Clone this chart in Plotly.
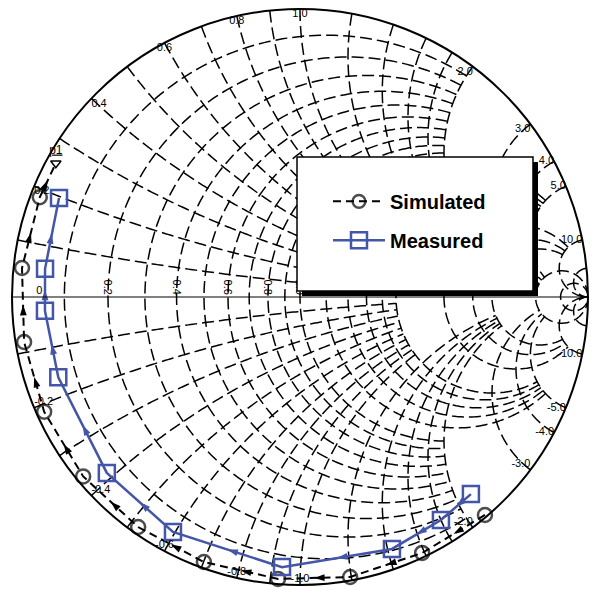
import math
import numpy as np
import plotly.graph_objects as go

# Normalized input impedance z = r + jx, ordered along the sweep direction;
# the last simulated point is the one tagged by marker p1
sim_r = [0.021, 0.027, 0.015, 0.017, 0.016, 0.015, 0.013, 0.014, 0.015, 0.015, 0.017, 0.018]
sim_x = [-2.16, -1.585, -1.195, -0.925, -0.701, -0.519, -0.360, -0.214, -0.081, 0.052, 0.185, 0.256]

meas_r = [0.283, 0.187, 0.108, 0.058, 0.051, 0.056, 0.063, 0.060, 0.058, 0.052]
meas_x = [-2.16, -1.80, -1.424, -0.934, -0.595, -0.386, -0.161, -0.027, 0.055, 0.197]

# chart grid values
grid_real = [0.1, 0.2, 0.3, 0.4, 0.5, 0.6, 0.7, 0.8, 0.9, 1.0,
             1.2, 1.4, 1.6, 1.8, 2.0, 3.0, 4.0, 5.0, 10.0, 20.0]
grid_imag = [0.1, 0.2, 0.3, 0.4, 0.5, 0.6, 0.7, 0.8, 0.9, 1.0,
             1.2, 1.4, 1.6, 1.8, 2.0, 3.0, 4.0, 5.0, 10.0, 20.0]

# labelled values
real_labels = [0.2, 0.4, 0.6, 0.8, 1.0]
imag_labels = [0.2, 0.4, 0.6, 0.8, 1.0, 2.0, 3.0, 4.0, 5.0, 10.0,
               -0.2, -0.4, -0.6, -0.8, -1.0, -2.0, -3.0, -4.0, -5.0, -10.0]

BLUE = "#4456A8"
FONT = "Liberation Sans, Arial, sans-serif"
GRID = dict(color="black", width=1.5, dash="12px,5px")


def gamma(r, x):
    z = complex(r, x)
    return (z - 1) / (z + 1)


def imped(g):
    return (1 + g) / (1 - g)


def reach(v):
    """How far a grid line of value v runs along the other family."""
    if v <= 1.0:
        return 2.0
    if v <= 2.0:
        return 5.0
    if v <= 5.0:
        return 10.0
    return 1e4


def resistance_circle(r, xmax, n=240):
    c, rho = r / (r + 1), 1 / (r + 1)
    t0 = np.angle(gamma(r, xmax) - c)
    t = np.linspace(t0, 2 * np.pi - t0, n)
    z = imped(c + rho * np.exp(1j * t))
    return z.real, z.imag


def reactance_arc(x, rmax, n=160):
    s = 1 if x > 0 else -1
    xa = abs(x)
    cen = complex(1, 1 / xa)
    p0 = np.angle(gamma(0, xa) - cen) % (2 * np.pi)
    p1 = np.angle(gamma(rmax, xa) - cen) % (2 * np.pi)
    p = np.linspace(p0, p1, n)
    z = imped(cen + (1 / xa) * np.exp(1j * p))
    return np.clip(z.real, 0, None), s * z.imag


def direction_marks(rs, xs):
    """Arrowheads half-way along each segment, pointing along the sweep."""
    gs = [gamma(r, x) for r, x in zip(rs, xs)]
    mr, mx, ang = [], [], []
    for a, b in zip(gs[:-1], gs[1:]):
        m = imped((a + b) / 2)
        d = b - a
        mr.append(m.real)
        mx.append(m.imag)
        ang.append(math.degrees(math.atan2(d.real, d.imag)))
    return mr, mx, ang


def label_pos(v):
    if v > 0:
        if v < 0.5:
            return "bottom right"
        if v <= 1.0:
            return "bottom center"
        if v <= 3.0:
            return "bottom left"
        return "middle left"
    if v > -0.5:
        return "top right"
    if v >= -1.0:
        return "top center"
    if v >= -3.0:
        return "top left"
    return "middle left"


fig = go.Figure()

# dashed chart grid
for r in grid_real:
    gr, gx = resistance_circle(r, reach(r))
    fig.add_trace(go.Scattersmith(real=gr, imag=gx, mode="lines", line=GRID,
                                  showlegend=False, hoverinfo="skip"))
for x in grid_imag:
    for sgn in (1, -1):
        gr, gx = reactance_arc(sgn * x, reach(x))
        fig.add_trace(go.Scattersmith(real=gr, imag=gx, mode="lines", line=GRID,
                                      showlegend=False, hoverinfo="skip"))

sar, sax, saa = direction_marks(sim_r, sim_x)
mar, max_, maa = direction_marks(meas_r, meas_x)

sim_sizes = [14] * (len(sim_r) - 1) + [0]

fig.add_trace(go.Scattersmith(
    real=sim_r, imag=sim_x, name="<b>Simulated</b>", legendgroup="sim",
    mode="lines+markers",
    line=dict(color="black", width=2, dash="8px,5px"),
    marker=dict(symbol="circle-open", size=sim_sizes, color="black", line=dict(width=2.5)),
))
fig.add_trace(go.Scattersmith(
    real=meas_r, imag=meas_x, name="<b>Measured</b>", legendgroup="meas",
    mode="lines+markers",
    line=dict(color=BLUE, width=2.5),
    marker=dict(symbol="square-open", size=16, color=BLUE, line=dict(width=2.5)),
))
fig.add_trace(go.Scattersmith(
    real=sar, imag=sax, mode="markers", showlegend=False, hoverinfo="skip",
    marker=dict(symbol="arrow", size=11, color="black", angle=saa),
))
fig.add_trace(go.Scattersmith(
    real=mar, imag=max_, mode="markers", showlegend=False, hoverinfo="skip",
    marker=dict(symbol="arrow", size=11, color=BLUE, angle=maa),
))
fig.add_trace(go.Scattersmith(
    real=sim_r[-1:], imag=sim_x[-1:], mode="markers+text", showlegend=False,
    text=["<u>p1</u>"], textposition="top center",
    textfont=dict(family=FONT, size=12, color="black"),
    marker=dict(symbol="triangle-down-open", size=9, color="black", line=dict(width=1.5)),
))

# reactance labels along the rim, plus the origin of the real axis
fig.add_trace(go.Scattersmith(
    subplot="smith2", real=[0.0] * len(imag_labels) + [0.05], imag=imag_labels + [0.0],
    mode="text", showlegend=False, hoverinfo="skip",
    text=[f"{v:.1f}" for v in imag_labels] + ["0"],
    textposition=[label_pos(v) for v in imag_labels] + ["top center"],
    textfont=dict(family=FONT, size=11, color="black"),
))

fig.update_layout(
    width=594, height=590,
    margin=dict(l=12, r=6, t=9, b=5),
    paper_bgcolor="white",
    showlegend=True,
    smith=dict(
        domain=dict(x=[0, 1], y=[0, 1]),
        bgcolor="white",
        realaxis=dict(tickvals=grid_real, showgrid=False, showline=True,
                      linecolor="black", linewidth=1, ticks="", showticklabels=False),
        imaginaryaxis=dict(tickvals=[], showgrid=False, showline=True,
                           linecolor="black", linewidth=2, ticks="", showticklabels=False),
    ),
    smith2=dict(
        domain=dict(x=[0, 1], y=[0, 1]),
        bgcolor="rgba(0,0,0,0)",
        realaxis=dict(tickvals=real_labels, showgrid=False, showline=False, ticks="",
                      tickformat=".1f", tickangle=90, side="top",
                      tickfont=dict(family=FONT, size=11, color="black")),
        imaginaryaxis=dict(tickvals=[], showgrid=False, showline=False, ticks="",
                           showticklabels=False),
    ),
    legend=dict(
        x=0.5486, y=0.70, xanchor="left", yanchor="top",
        bgcolor="rgba(0,0,0,0)", borderwidth=0,
        font=dict(family=FONT, size=20, color="black"),
        traceorder="grouped", tracegroupgap=10, itemwidth=52,
    ),
    shapes=[
        dict(type="rect", xref="paper", yref="paper", layer="above",
             x0=0.5035, x1=0.9132, y0=0.5017, y1=0.7344,
             fillcolor="black", line=dict(width=0)),
        dict(type="rect", xref="paper", yref="paper", layer="above",
             x0=0.4948, x1=0.9045, y0=0.5104, y1=0.7431,
             fillcolor="white", line=dict(color="black", width=1.5)),
    ],
)

fig.write_html("out.html")
